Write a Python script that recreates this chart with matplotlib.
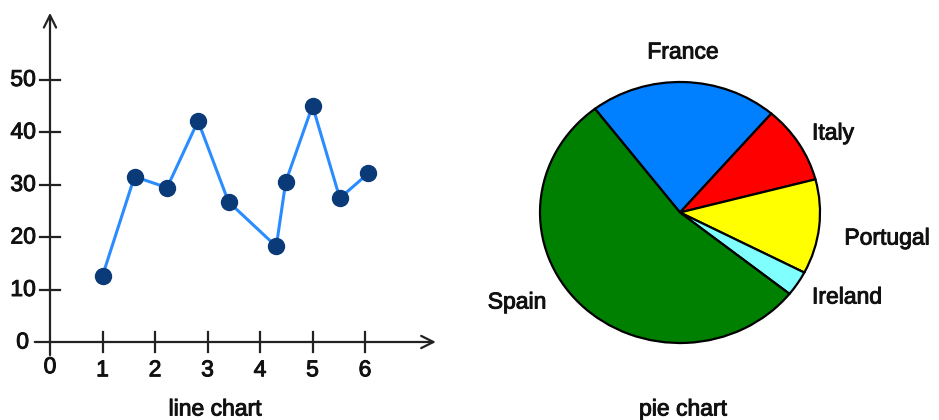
import matplotlib
matplotlib.use("Agg")
import matplotlib.pyplot as plt
import matplotlib.patheffects as pe

plt.rcParams['font.family'] = ['Liberation Sans', 'DejaVu Sans']

# Line chart data
line_x = [1.0, 1.61, 2.23, 2.82, 3.40, 4.31, 4.49, 5.0, 5.52, 6.06]
line_y = [12.6, 31.5, 29.4, 42.1, 26.7, 18.2, 30.5, 45.0, 27.4, 32.1]
x_ticks = [1, 2, 3, 4, 5, 6]
y_ticks = [10, 20, 30, 40, 50]

# Pie chart data
countries = ["France", "Italy", "Portugal", "Ireland", "Spain"]
shares = [21.7, 9.6, 11.7, 3.1, 53.9]
slice_colors = ["#0080FF", "#FF0000", "#FFFF00", "#80FFFF", "#008000"]

W, H = 939, 420
fig = plt.figure(figsize=(W / 100, H / 100), dpi=100)

TXT = dict(fontsize=16.5, color="#111111",
           path_effects=[pe.withStroke(linewidth=0.7, foreground="#111111")])

# ---- line chart ----
ax = fig.add_axes([0, 0, 470 / W, 1])
ax.set_xlim(-50 / 52.5, 420 / 52.5)
ax.set_ylim(-78 / 5.25, 342 / 5.25)
ax.axis('off')

axis_col = "#222222"
arrow = dict(arrowstyle="->", color=axis_col, lw=1.6, mutation_scale=22,
             shrinkA=0, shrinkB=0)
ax.annotate("", xy=(0, 62.7), xytext=(0, -2.5), arrowprops=arrow)
ax.annotate("", xy=(7.35, 0), xytext=(-0.29, 0), arrowprops=arrow)

for t in y_ticks:
    ax.plot([-0.19, 0.19], [t, t], color=axis_col, lw=1.6)
    ax.text(-0.27, t, str(t), ha='right', va='center', **TXT)
ax.text(-0.40, 0, "0", ha='right', va='center', **TXT)

for t in x_ticks:
    ax.plot([t, t], [-1.9, 1.9], color=axis_col, lw=1.6)
    ax.text(t, -5.3, str(t), ha='center', va='center', **TXT)
ax.text(0, -4.7, "0", ha='center', va='center', **TXT)

ax.plot(line_x, line_y, color="#2A8CFF", lw=2.2, zorder=3)
ax.plot(line_x, line_y, linestyle='none', marker='o', ms=11.5,
        color="#0B3A78", mec="#0B3A78", zorder=4)

ax.text(215 / 52.5 - 50 / 52.5, (342 - 409) / 5.25, "line chart",
        ha='center', va='center', **TXT)

# ---- pie chart ----
pax = fig.add_axes([540 / W, 1 - 343 / H, 280 / W, 261 / H])
pax.pie(shares, colors=slice_colors, startangle=127.4, counterclock=False,
        wedgeprops=dict(edgecolor="black", linewidth=1.6))
pax.set_aspect('auto')
pax.set_xlim(-1.0, 1.0)
pax.set_ylim(-1.0, 1.0)
pax.set_frame_on(False)

def label(px, py, s):
    fig.text(px / W, 1 - py / H, s, ha='center', va='center', **TXT)

label(683, 52, "France")
label(833, 133, "Italy")
label(887, 238, "Portugal")
label(847, 297, "Ireland")
label(517, 302, "Spain")
label(683, 409, "pie chart")

fig.savefig("out.png", dpi=100)
